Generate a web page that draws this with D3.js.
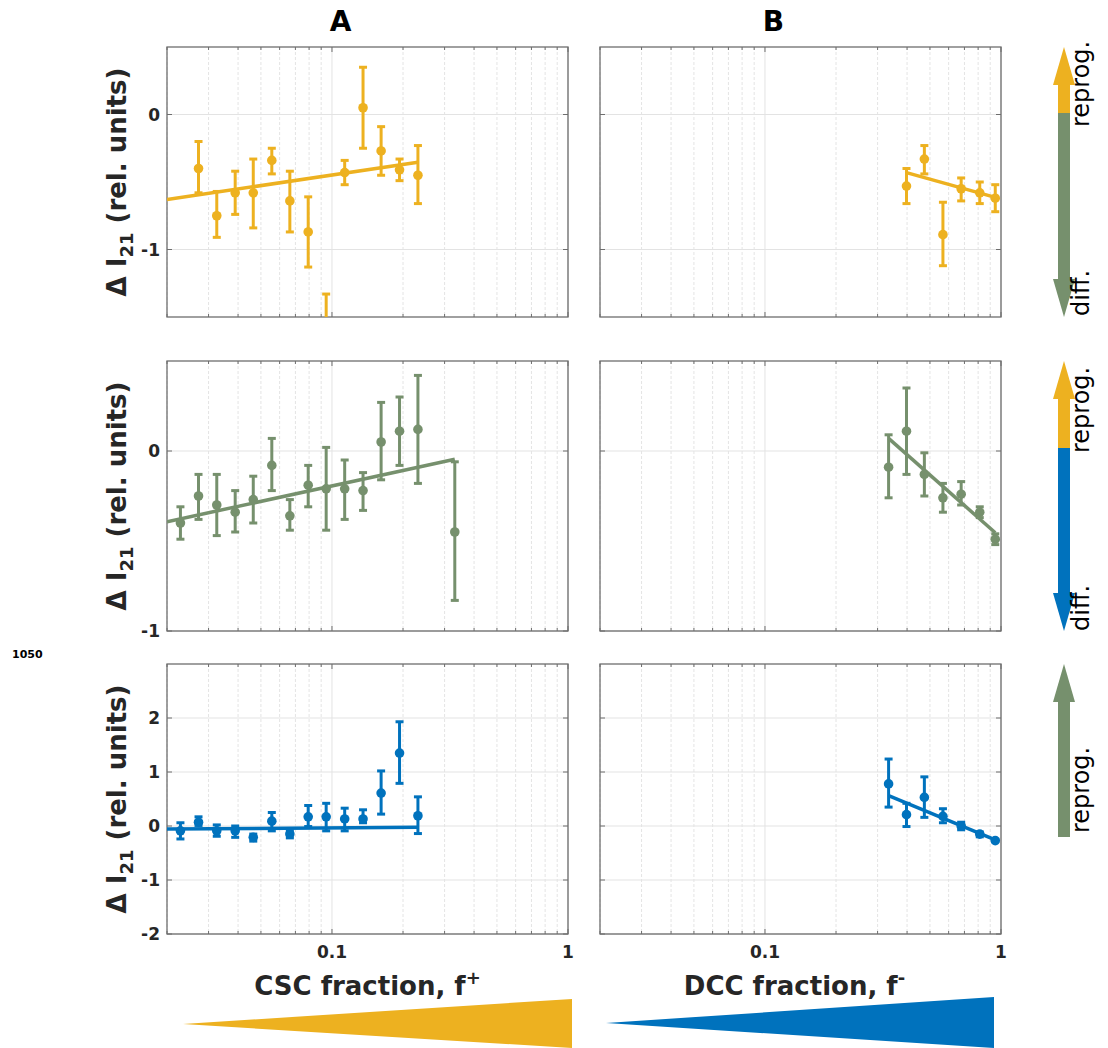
<!DOCTYPE html>
<html>
<head>
<meta charset="utf-8">
<script src="https://cdn.jsdelivr.net/npm/d3@7"></script>
<style>
  body { margin: 0; background: #fff; }
  svg { font-family: "DejaVu Sans", sans-serif; }
</style>
</head>
<body>
<svg id="fig" width="1108" height="1048"></svg>
<script>
// x positions (fraction) of the bins
var xA = [0.0228, 0.0272, 0.0325, 0.0389, 0.0464, 0.0556, 0.0663, 0.0793, 0.0945, 0.1132, 0.1354, 0.1615, 0.1933, 0.2313, 0.3314];
var xB = [0.334, 0.3977, 0.4735, 0.5675, 0.678, 0.8128, 0.9456];

// row 1 (orange)
var r1A = [null, -0.40, -0.75, -0.58, -0.58, -0.34, -0.64, -0.87, -1.60, -0.43, 0.05, -0.27, -0.41, -0.45, null];
var r1A_lo = [null, -0.58, -0.91, -0.74, -0.84, -0.44, -0.87, -1.13, -1.87, -0.52, -0.25, -0.45, -0.49, -0.66, null];
var r1A_hi = [null, -0.20, -0.57, -0.42, -0.33, -0.25, -0.42, -0.61, -1.33, -0.34, 0.35, -0.09, -0.33, -0.23, null];
var r1B = [null, -0.53, -0.33, -0.89, -0.55, -0.58, -0.62];
var r1B_lo = [null, -0.66, -0.44, -1.12, -0.64, -0.66, -0.72];
var r1B_hi = [null, -0.40, -0.23, -0.65, -0.47, -0.50, -0.52];

// row 2 (green)
var r2A = [-0.40, -0.25, -0.30, -0.34, -0.27, -0.08, -0.36, -0.19, -0.21, -0.21, -0.22, 0.05, 0.11, 0.12, -0.45];
var r2A_lo = [-0.49, -0.38, -0.47, -0.45, -0.40, -0.22, -0.44, -0.31, -0.44, -0.38, -0.33, -0.16, -0.08, -0.18, -0.83];
var r2A_hi = [-0.31, -0.13, -0.13, -0.22, -0.14, 0.07, -0.27, -0.08, 0.02, -0.05, -0.12, 0.27, 0.30, 0.42, -0.06];
var r2B = [-0.09, 0.11, -0.13, -0.26, -0.24, -0.34, -0.49];
var r2B_lo = [-0.26, -0.13, -0.25, -0.34, -0.30, -0.37, -0.52];
var r2B_hi = [0.09, 0.35, -0.01, -0.18, -0.17, -0.31, -0.46];

// row 3 (blue)
var r3A = [-0.09, 0.07, -0.09, -0.09, -0.21, 0.09, -0.15, 0.17, 0.17, 0.13, 0.13, 0.61, 1.35, 0.19, null];
var r3A_lo = [-0.24, 0.01, -0.19, -0.21, -0.28, -0.09, -0.22, -0.01, -0.09, -0.09, 0.06, 0.22, 0.79, -0.14, null];
var r3A_hi = [0.06, 0.17, 0.02, 0.00, -0.15, 0.25, -0.09, 0.38, 0.42, 0.33, 0.30, 1.02, 1.93, 0.54, null];
var r3B = [0.78, 0.21, 0.53, 0.18, 0.00, -0.15, -0.27];
var r3B_lo = [0.35, -0.01, 0.16, 0.06, -0.07, -0.20, -0.29];
var r3B_hi = [1.24, 0.42, 0.91, 0.32, 0.07, -0.11, -0.25];

// fitted lines, endpoints [x, y]
var fit1A = [[0.02, -0.63], [0.2313, -0.354]];
var fit1B = [[0.3977, -0.431], [0.9456, -0.614]];
var fit2A = [[0.02, -0.393], [0.3314, -0.046]];
var fit2B = [[0.334, 0.07], [0.9456, -0.454]];
var fit3A = [[0.02, -0.056], [0.2313, -0.025]];
var fit3B = [[0.334, 0.562], [0.9456, -0.259]];

var yDomains = [[-1.5, 0.5], [-1, 0.5], [-2, 3]];
var yTicks = [[-1, 0], [-1, 0], [-2, -1, 0, 1, 2]];
var xTickLabels = [0.1, 1];
var colTitles = ["A", "B"];

var orange = "#EDB120", green = "#76906D", blue = "#0072BD";
var rowColors = [orange, green, blue];

var colX = [167, 600], colW = 401;
var rowY = [47, 361, 664], rowH = 270;

var svg = d3.select("#fig");
var defs = svg.append("defs");

var rows = [
  { A: [r1A, r1A_lo, r1A_hi], B: [r1B, r1B_lo, r1B_hi], fitA: fit1A, fitB: fit1B },
  { A: [r2A, r2A_lo, r2A_hi], B: [r2B, r2B_lo, r2B_hi], fitA: fit2A, fitB: fit2B },
  { A: [r3A, r3A_lo, r3A_hi], B: [r3B, r3B_lo, r3B_hi], fitA: fit3A, fitB: fit3B }
];

function isDecade(d) {
  return Math.abs(Math.log10(d) - Math.round(Math.log10(d))) < 1e-6;
}

function drawPanel(ri, ci) {
  var x0 = colX[ci], y0 = rowY[ri];
  var x = d3.scaleLog().domain([0.02, 1]).range([x0, x0 + colW]);
  var y = d3.scaleLinear().domain(yDomains[ri]).range([y0 + rowH, y0]);
  var g = svg.append("g");
  var clipId = "clip" + ri + ci;
  defs.append("clipPath").attr("id", clipId).append("rect")
    .attr("x", x0).attr("y", y0).attr("width", colW).attr("height", rowH);

  var xt = x.ticks();
  // minor/major x grid
  g.selectAll(".xg").data(xt).enter().append("line")
    .attr("x1", d => x(d)).attr("x2", d => x(d))
    .attr("y1", y0).attr("y2", y0 + rowH)
    .attr("stroke", d => isDecade(d) ? "#e3e3e3" : "#e4e4e4")
    .attr("stroke-dasharray", d => isDecade(d) ? null : "3,2")
    .attr("stroke-width", 1);
  // y grid
  g.selectAll(".yg").data(yTicks[ri]).enter().append("line")
    .attr("x1", x0).attr("x2", x0 + colW)
    .attr("y1", d => y(d)).attr("y2", d => y(d))
    .attr("stroke", "#e3e3e3").attr("stroke-width", 1);

  // ticks (inside)
  g.selectAll(".xtb").data(xt).enter().append("line")
    .attr("x1", d => x(d)).attr("x2", d => x(d))
    .attr("y1", y0 + rowH).attr("y2", d => y0 + rowH - (isDecade(d) ? 5 : 3))
    .attr("stroke", "#6e6e6e");
  g.selectAll(".xtt").data(xt).enter().append("line")
    .attr("x1", d => x(d)).attr("x2", d => x(d))
    .attr("y1", y0).attr("y2", d => y0 + (isDecade(d) ? 5 : 3))
    .attr("stroke", "#6e6e6e");
  g.selectAll(".ytl").data(yTicks[ri]).enter().append("line")
    .attr("x1", x0).attr("x2", x0 + 5)
    .attr("y1", d => y(d)).attr("y2", d => y(d)).attr("stroke", "#6e6e6e");
  g.selectAll(".ytr").data(yTicks[ri]).enter().append("line")
    .attr("x1", x0 + colW - 5).attr("x2", x0 + colW)
    .attr("y1", d => y(d)).attr("y2", d => y(d)).attr("stroke", "#6e6e6e");

  // box
  g.append("rect").attr("x", x0).attr("y", y0).attr("width", colW).attr("height", rowH)
    .attr("fill", "none").attr("stroke", "#6e6e6e").attr("stroke-width", 1.3);

  // y tick labels on column A
  if (ci === 0) {
    g.selectAll(".ylab").data(yTicks[ri]).enter().append("text")
      .attr("x", x0 - 7).attr("y", d => y(d)).attr("dy", "0.36em")
      .attr("text-anchor", "end").attr("font-size", 17).attr("font-weight", "bold")
      .attr("fill", "#262626").text(d => d);
  }
  // x tick labels on bottom row
  if (ri === 2) {
    g.selectAll(".xlab").data(xTickLabels).enter().append("text")
      .attr("x", d => x(d)).attr("y", y0 + rowH + 24)
      .attr("text-anchor", "middle").attr("font-size", 17).attr("font-weight", "bold")
      .attr("fill", "#262626").text(d => d);
  }

  // data
  var xs = ci === 0 ? xA : xB;
  var ser = ci === 0 ? rows[ri].A : rows[ri].B;
  var fit = ci === 0 ? rows[ri].fitA : rows[ri].fitB;
  var pts = xs.map((xv, i) => ({ x: xv, m: ser[0][i], lo: ser[1][i], hi: ser[2][i] }))
    .filter(d => d.m !== null);
  var col = rowColors[ri];
  var dg = g.append("g").attr("clip-path", "url(#" + clipId + ")");

  dg.append("path").datum(fit)
    .attr("d", d3.line().x(d => x(d[0])).y(d => y(d[1])))
    .attr("stroke", col).attr("stroke-width", 3.5).attr("fill", "none");

  dg.selectAll(".eb").data(pts).enter().append("line")
    .attr("x1", d => x(d.x)).attr("x2", d => x(d.x))
    .attr("y1", d => y(d.lo)).attr("y2", d => y(d.hi))
    .attr("stroke", col).attr("stroke-width", 3);
  dg.selectAll(".cl").data(pts).enter().append("line")
    .attr("x1", d => x(d.x) - 4).attr("x2", d => x(d.x) + 4)
    .attr("y1", d => y(d.lo)).attr("y2", d => y(d.lo))
    .attr("stroke", col).attr("stroke-width", 3);
  dg.selectAll(".ch").data(pts).enter().append("line")
    .attr("x1", d => x(d.x) - 4).attr("x2", d => x(d.x) + 4)
    .attr("y1", d => y(d.hi)).attr("y2", d => y(d.hi))
    .attr("stroke", col).attr("stroke-width", 3);
  dg.selectAll(".mk").data(pts).enter().append("circle")
    .attr("cx", d => x(d.x)).attr("cy", d => y(d.m)).attr("r", 4.8)
    .attr("fill", col);
}

for (var ri = 0; ri < 3; ri++) {
  for (var ci = 0; ci < 2; ci++) drawPanel(ri, ci);
  // y axis label
  var cy = rowY[ri] + rowH / 2;
  var yl = svg.append("text")
    .attr("transform", "translate(126," + cy + ") rotate(-90)")
    .attr("text-anchor", "middle").attr("font-size", 26).attr("font-weight", "bold")
    .attr("fill", "#262626");
  yl.append("tspan").text("\u0394 I");
  yl.append("tspan").attr("font-size", 18).attr("dy", 7).text("21");
  yl.append("tspan").attr("dy", -7).text(" (rel. units)");
}

// column titles
colTitles.forEach(function (t, i) {
  svg.append("text").attr("x", colX[i] + colW / 2 - 27).attr("y", 31)
    .attr("text-anchor", "middle").attr("font-size", 28).attr("font-weight", "bold")
    .attr("fill", "#000").text(t);
});

// x axis labels
var xl1 = svg.append("text").attr("x", colX[0] + colW / 2).attr("y", 995)
  .attr("text-anchor", "middle").attr("font-size", 26).attr("font-weight", "bold").attr("fill", "#262626");
xl1.append("tspan").text("CSC fraction, f");
xl1.append("tspan").attr("font-size", 18).attr("dy", -11).text("+");
var xl2 = svg.append("text").attr("x", colX[1] + colW / 2 - 6).attr("y", 995)
  .attr("text-anchor", "middle").attr("font-size", 26).attr("font-weight", "bold").attr("fill", "#262626");
xl2.append("tspan").text("DCC fraction, f");
xl2.append("tspan").attr("font-size", 18).attr("dy", -11).text("-");

// wedges
svg.append("path").attr("d", "M183,1024 L572,999 L572,1048 Z").attr("fill", orange);
svg.append("path").attr("d", "M606,1023 L994,997 L994,1048 Z").attr("fill", blue);

// side arrows
function arrow(top, segs, headUp, headDown) {
  var cx = 1064, hw = 11, sw = 6, hl = 38;
  segs.forEach(function (s) {
    svg.append("rect").attr("x", cx - sw).attr("y", s[0]).attr("width", sw * 2)
      .attr("height", s[1] - s[0]).attr("fill", s[2]);
  });
  if (headUp) svg.append("path")
    .attr("d", "M" + cx + "," + top + " L" + (cx + hw) + "," + (top + hl) + " L" + (cx - hw) + "," + (top + hl) + " Z")
    .attr("fill", headUp);
  if (headDown) {
    var b = top + rowH;
    svg.append("path")
      .attr("d", "M" + cx + "," + b + " L" + (cx + hw) + "," + (b - hl) + " L" + (cx - hw) + "," + (b - hl) + " Z")
      .attr("fill", headDown);
  }
}
arrow(47, [[84, 113, orange], [113, 281, green]], orange, green);
arrow(361, [[398, 448, orange], [448, 595, blue]], orange, blue);
arrow(664, [[701, 837, green]], green, null);

function sideText(t, yStart) {
  svg.append("text").attr("transform", "translate(1089," + yStart + ") rotate(-90)")
    .attr("font-size", 24).attr("fill", "#000").text(t);
}
sideText("reprog.", 127);
sideText("diff.", 316);
sideText("reprog.", 453);
sideText("diff.", 631);
sideText("reprog.", 833);

svg.append("text").attr("x", 12).attr("y", 658).attr("font-size", 11)
  .attr("font-weight", "bold").attr("fill", "#000").text("1050");
</script>
</body>
</html>
